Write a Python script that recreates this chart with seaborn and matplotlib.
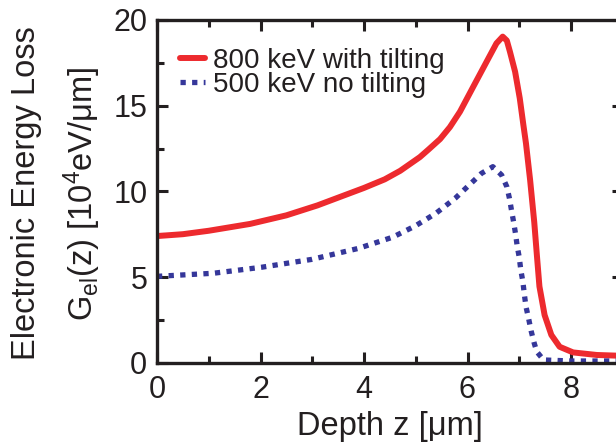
import matplotlib
matplotlib.use("Agg")
import matplotlib.pyplot as plt
from matplotlib.ticker import MultipleLocator
import pandas as pd
import seaborn as sns

# Electronic energy loss profiles G_el(z) versus depth
depth_800 = [0.0, 0.5, 1.0, 1.8, 2.5, 3.1, 3.7, 4.0, 4.4, 4.7, 5.08, 5.25, 5.47,
             5.66, 5.855, 6.11, 6.37, 6.56, 6.68, 6.76, 6.82, 6.92, 7.01, 7.08,
             7.13, 7.21, 7.29, 7.34, 7.39, 7.49, 7.62, 7.78, 8.04, 8.5, 9.0]
gel_800 = [7.39, 7.5, 7.7, 8.1, 8.6, 9.18, 9.86, 10.2, 10.7, 11.2, 12.0, 12.45,
           13.05, 13.75, 14.65, 16.1, 17.57, 18.64, 19.03, 18.8, 18.15, 16.98,
           15.43, 13.87, 12.8, 10.66, 8.2, 6.3, 4.45, 2.78, 1.62, 0.93, 0.6,
           0.45, 0.4]

depth_500 = [0.0, 1.09, 2.02, 2.99, 3.89, 4.55, 4.99, 5.39, 5.76, 6.1, 6.27,
             6.49, 6.66, 6.76, 6.81, 6.85, 6.89, 6.93, 6.96, 7.0, 7.03, 7.07,
             7.10, 7.13, 7.18, 7.23, 7.29, 7.34, 7.47, 8.0, 9.0]
gel_500 = [5.04, 5.22, 5.57, 6.03, 6.67, 7.32, 7.98, 8.72, 9.59, 10.56, 11.05,
           11.44, 10.95, 10.27, 9.6, 8.9, 8.23, 7.49, 6.81, 6.15, 5.41, 4.73,
           3.95, 3.27, 2.59, 1.85, 1.13, 0.64, 0.16, 0.1, 0.1]

series_labels = ["800 keV with tilting", "500 keV no tilting"]
x_ticks = [0, 2, 4, 6, 8]
y_ticks = [0, 5, 10, 15, 20]

sns.set_style("ticks")
plt.rcParams["font.family"] = ["Liberation Sans", "DejaVu Sans"]
plt.rcParams["mathtext.default"] = "regular"

ink = "#231f20"
red = "#ed2a2e"
blue = "#35379a"

W, H = 616, 443
fig = plt.figure(figsize=(W / 100, H / 100), dpi=100)
left, right, top, bottom = 157, 622.75, 20, 362.7
ax = fig.add_axes([left / W, (H - bottom) / H, (right - left) / W, (bottom - top) / H])

df800 = pd.DataFrame({"z": depth_800, "G": gel_800})
df500 = pd.DataFrame({"z": depth_500, "G": gel_500})

sns.lineplot(data=df800, x="z", y="G", ax=ax, color=red, linewidth=4.3,
             label=series_labels[0], solid_joinstyle="round")
sns.lineplot(data=df500, x="z", y="G", ax=ax, color=blue, linewidth=3.8,
             linestyle=(0, (1, 1.2)), label=series_labels[1])

ax.set_xlim(0, 9)
ax.set_ylim(0, 20)
ax.set_xticks(x_ticks)
ax.set_yticks(y_ticks)
ax.xaxis.set_minor_locator(MultipleLocator(1))
ax.yaxis.set_minor_locator(MultipleLocator(2.5))

for side in ax.spines.values():
    side.set_color(ink)
    side.set_linewidth(2.4)
    side.set_visible(True)

ax.tick_params(which="both", direction="in", top=True, right=True,
               color=ink, width=2.2, labelcolor=ink, labelsize=22)
ax.tick_params(which="major", length=8)
ax.tick_params(which="minor", length=5)
ax.tick_params(axis="y", pad=7)
ax.tick_params(axis="x", pad=9)

ax.set_xlabel("Depth z [μm]", fontsize=23.5, color=ink, labelpad=4)
ax.set_ylabel("")

fig.text(27 / W, (H - 193.5) / H, "Electronic Energy Loss", rotation=90,
         ha="center", va="center", fontsize=23.5, color=ink)
fig.text(82 / W, (H - 193.5) / H, "G$_{el}$(z) [10$^{4}$eV/μm]", rotation=90,
         ha="center", va="center", fontsize=23.5, color=ink)

ax.legend(frameon=False, loc="upper left", bbox_to_anchor=(0.049, 0.918),
          fontsize=20, handlelength=0.9, handletextpad=0.3, labelspacing=-0.08,
          borderpad=0, borderaxespad=0, labelcolor=ink)

fig.savefig("out.png", dpi=100)
